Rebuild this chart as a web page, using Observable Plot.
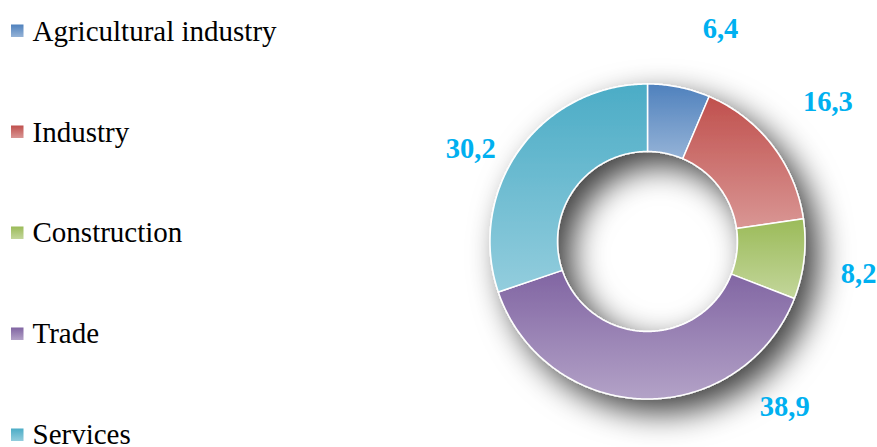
<!DOCTYPE html>
<html><head><meta charset="utf-8">
<script src="https://cdn.jsdelivr.net/npm/d3@7"></script>
<script src="https://cdn.jsdelivr.net/npm/@observablehq/plot@0.6"></script>
<style>html,body{margin:0;padding:0;background:#fff;} #chart{width:877px;height:447px;}</style>
</head><body>
<svg width="0" height="0" style="position:absolute"><defs id="defs"></defs></svg>
<div id="chart"></div>
<script>
// ---- data ----
const categories = ["Agricultural industry", "Industry", "Construction", "Trade", "Services"];
const values = [6.4, 16.3, 8.2, 38.9, 30.2];
const valueLabels = ["6,4", "16,3", "8,2", "38,9", "30,2"];

// ---- styles / layout ----
const colorsTop = ["#4F81BD", "#C0504D", "#9BBB59", "#8064A2", "#4BACC6"];
const colorsBottom = ["#95B3D7", "#D99694", "#C3D69B", "#B3A2C7", "#93CDDD"];
const labelAngles = [18.8, 52.1, 98.6, 140.4, 297.6];   // degrees clockwise from top
const labelRadii = [225, 228, 213, 214.5, 200];
const W = 877, H = 447;
const cx = 647.5, cy = 241.5, R = 157.5, R0 = 90;

// gradient + shadow defs
const defs = document.getElementById("defs");
defs.innerHTML = colorsTop.map((c, i) =>
  `<linearGradient id="grad${i}" x1="0" y1="0" x2="0" y2="1">
     <stop offset="0" stop-color="${c}"/><stop offset="1" stop-color="${colorsBottom[i]}"/>
   </linearGradient>`).join("") +
  `<filter id="shadow" x="-40%" y="-40%" width="190%" height="190%">
     <feDropShadow dx="13" dy="13" stdDeviation="16" flood-color="#000" flood-opacity="0.75"/>
   </filter>`;

// slice geometry from data
const arcs = d3.pie().sort(null)(values);
const rows = arcs.flatMap((a, i) => {
  const n = Math.max(2, Math.ceil((a.endAngle - a.startAngle) / 0.01));
  return d3.range(n + 1).map(k => {
    const t = a.startAngle + (a.endAngle - a.startAngle) * k / n;
    return {i, x1: cx + R0 * Math.sin(t), y1: cy - R0 * Math.cos(t),
               x2: cx + R * Math.sin(t), y2: cy - R * Math.cos(t)};
  });
});

const labels = valueLabels.map((t, i) => {
  const a = labelAngles[i] * Math.PI / 180;
  return {t, x: cx + labelRadii[i] * Math.sin(a), y: cy - labelRadii[i] * Math.cos(a)};
});

const legend = categories.map((c, i) => ({c, i}));

const plot = Plot.plot({
  width: W, height: H,
  margin: 0,
  x: {domain: [0, W], range: [0, W], axis: null},
  y: {domain: [0, H], range: [0, H], axis: null},
  color: {type: "identity"},
  style: {background: "#fff", overflow: "visible"},
  marks: [
    Plot.area(rows, {x1: "x1", y1: "y1", x2: "x2", y2: "y2", z: "i",
      fill: d => `url(#grad${d.i})`, stroke: "#fff", strokeWidth: 1.5, curve: "linear"}),
    Plot.text(labels, {x: "x", y: "y", text: "t", fill: "#00B0F0", fontSize: 28.5,
      fontWeight: "bold", fontFamily: "Liberation Serif", textAnchor: "middle", lineAnchor: "middle"}),
    Plot.rect(legend, {x1: d => 11, x2: d => 23.5, y1: d => 24.5 + 101 * d.i, y2: d => 37 + 101 * d.i,
      fill: d => `url(#grad${d.i})`}),
    Plot.text(legend, {x: d => 32, y: d => 31.5 + 100.6 * d.i, text: "c", fill: "#000", fontSize: 29,
      fontFamily: "Liberation Serif", textAnchor: "start", lineAnchor: "middle"})
  ]
});
const areaG = plot.querySelector('g[aria-label="area"]');
if (areaG) areaG.setAttribute("filter", "url(#shadow)");
document.getElementById("chart").append(plot);
</script>
</body></html>
